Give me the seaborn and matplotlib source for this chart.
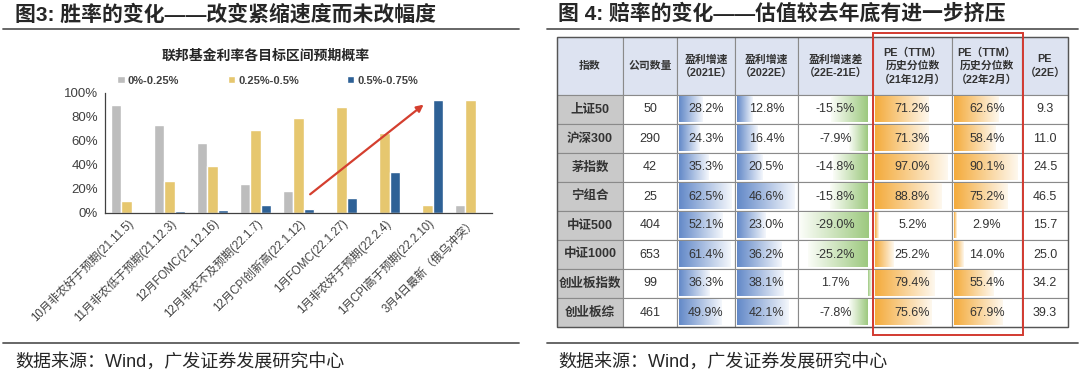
import numpy as np
import pandas as pd
import matplotlib
matplotlib.use("Agg")
import matplotlib.pyplot as plt
from matplotlib.patches import Rectangle
from matplotlib.colors import LinearSegmentedColormap
import seaborn as sns

# ---- 图3 数据: 联邦基金利率各目标区间预期概率 (%)
events = ["10月非农好于预期(21.11.5)", "11月非农低于预期(21.12.3)", "12月FOMC(21.12.16)",
          "12月非农不及预期(22.1.7)", "12月CPI创新高(22.1.12)", "1月FOMC(22.1.27)",
          "1月非农好于预期(22.2.4)", "1月CPI高于预期(22.2.10)", "3月4日最新（俄乌冲突）"]
ranges = ["0%-0.25%", "0.25%-0.5%", "0.5%-0.75%"]
p_0_025 = [90, 73, 58, 24, 18, 0, 0, 0, 6]
p_025_05 = [10, 26, 39, 69, 79, 88, 66, 6, 94]
p_05_075 = [0, 1, 2, 6, 3, 12.5, 34, 94, 0]

# ---- 图4 数据: 表格
idx_names = ["上证50", "沪深300", "茅指数", "宁组合", "中证500", "中证1000", "创业板指数", "创业板综"]
n_companies = [50, 290, 42, 25, 404, 653, 99, 461]
growth_21 = [28.2, 24.3, 35.3, 62.5, 52.1, 61.4, 36.3, 49.9]
growth_22 = [12.8, 16.4, 20.5, 46.6, 23.0, 36.2, 38.1, 42.1]
growth_diff = [-15.5, -7.9, -14.8, -15.8, -29.0, -25.2, 1.7, -7.8]
pe_pct_dec = [71.2, 71.3, 97.0, 88.8, 5.2, 25.2, 79.4, 75.6]
pe_pct_feb = [62.6, 58.4, 90.1, 75.2, 2.9, 14.0, 55.4, 67.9]
pe_22e = [9.3, 11.0, 24.5, 46.5, 15.7, 25.0, 34.2, 39.3]
headers = ["指数", "公司数量", "盈利增速\n（2021E）", "盈利增速\n（2022E）", "盈利增速差\n（22E-21E）",
           "PE（TTM）\n历史分位数\n（21年12月）", "PE（TTM）\n历史分位数\n（22年2月）", "PE\n（22E）"]

sns.set_theme(style="white")
plt.rcParams['font.family'] = ['Liberation Sans', 'Noto Sans CJK SC', 'DejaVu Sans']
plt.rcParams['axes.unicode_minus'] = False

W, H = 1080, 375
fig = plt.figure(figsize=(W / 100, H / 100), dpi=100)

# calque en pixels pour titres, lignes et tableau
ov = fig.add_axes([0, 0, 1, 1])
ov.axis('off')

TXT = '#262626'
LINE = '#5a5a5a'

# titres + filets
ov.text(15, 14, "图3: 胜率的变化——改变紧缩速度而未改幅度", fontsize=15, fontweight='bold',
        color=TXT, va='center', ha='left')
ov.text(558, 14, "图 4: 赔率的变化——估值较去年底有进一步挤压", fontsize=15, fontweight='bold',
        color=TXT, va='center', ha='left')
for x0, x1 in [(3, 519), (547, 1078)]:
    ov.plot([x0, x1], [29, 29], color=LINE, lw=1.3)
    ov.plot([x0, x1], [343, 343], color=LINE, lw=1.3)
ov.text(15, 362, "数据来源：Wind，广发证券发展研究中心", fontsize=13, color=TXT, va='center')
ov.text(558, 362, "数据来源：Wind，广发证券发展研究中心", fontsize=13, color=TXT, va='center')

# ---------------- 图3 : barres groupées ----------------
df = pd.DataFrame({
    "event": events * 3,
    "range": np.repeat(ranges, len(events)),
    "prob": p_0_025 + p_025_05 + p_05_075,
})
ax = fig.add_axes([105 / W, 1 - 212.7 / H, 387 / W, 120 / H])
sns.barplot(data=df, x="event", y="prob", hue="range", order=events, hue_order=ranges,
            palette=["#bdbdbd", "#e6c76f", "#2e6196"], saturation=1, width=0.7, ax=ax)
ax.set_ylim(0, 100)
ax.set_xlim(-0.5, len(events) - 0.5)
ax.set_yticks(range(0, 101, 20))
ax.set_yticklabels([f"{v}%" for v in range(0, 101, 20)], fontsize=9.5, color='#404040')
ax.set_xticks(range(len(events)))
ax.set_xticklabels(events, rotation=45, ha='right', rotation_mode='anchor', fontsize=8.3, color='#404040')
ax.set_xlabel("")
ax.set_ylabel("")
for s in ['top', 'right']:
    ax.spines[s].set_visible(False)
for s in ['left', 'bottom']:
    ax.spines[s].set_color('#404040')
    ax.spines[s].set_linewidth(0.9)
ax.tick_params(axis='y', length=3, color='#404040', pad=2)
ax.tick_params(axis='x', length=0, pad=3)
ax.patch.set_alpha(0)

arrow_from = (4.22, 13.9)
arrow_to = (6.96, 91.5)
ax.annotate("", xy=arrow_to, xytext=arrow_from,
            arrowprops=dict(arrowstyle='-|>', color='#d43f2f', lw=1.6, mutation_scale=10))

handles, labels = ax.get_legend_handles_labels()
ax.legend_.remove()
fig.legend(handles, labels, ncol=3, loc='lower left', mode='expand',
           bbox_to_anchor=(113 / W, 1 - 90 / H, 310 / W, 14 / H), frameon=False,
           handlelength=0.65, handleheight=0.65, handletextpad=0.3, borderaxespad=0,
           prop={'size': 8, 'weight': 'bold'}, labelcolor='#404040')
fig.text(266 / W, 1 - 56 / H, "联邦基金利率各目标区间预期概率", fontsize=10, fontweight='bold',
         color=TXT, ha='center', va='center')

# ---------------- 图4 : tableau avec barres de données ----------------
col_edges = [557, 623, 677, 735, 798, 873, 952, 1022, 1068]
head_top, head_bot = 37, 95
row_h = (327 - head_bot) / len(idx_names)
GRID = '#8a8a8a'


def gradient_bar(x0, x1, y0, y1, c_dark, c_light, reverse=False):
    if x1 - x0 < 0.5:
        return
    cmap = LinearSegmentedColormap.from_list("g", [c_dark, c_light])
    grad = np.linspace(0, 1, 128)[None, :]
    if reverse:
        grad = grad[:, ::-1]
    ov.imshow(grad, cmap=cmap, extent=(x0, x1, y1, y0), aspect='auto',
              interpolation='bilinear', zorder=2)


# en-tête
for j, h in enumerate(headers):
    x0, x1 = col_edges[j], col_edges[j + 1]
    ov.add_patch(Rectangle((x0, head_top), x1 - x0, head_bot - head_top, facecolor='#dde3f1',
                           edgecolor=GRID, lw=0.8, zorder=1))
    ov.text((x0 + x1) / 2, (head_top + head_bot) / 2, h, ha='center', va='center',
            fontsize=7.8, fontweight='bold', color='#333333', linespacing=1.35, zorder=4)

BLUE = ('#6389c8', '#f4f7fc')
ORANGE = ('#f4ab3c', '#fef8ee')
GREEN = ('#9dc97f', '#fbfdf8')
bar_cols = {2: (growth_21,) + BLUE, 3: (growth_22,) + BLUE,
            5: (pe_pct_dec,) + ORANGE, 6: (pe_pct_feb,) + ORANGE}

for i, name in enumerate(idx_names):
    y0 = head_bot + i * row_h
    y1 = y0 + row_h
    yc = (y0 + y1) / 2
    cells = [name, f"{n_companies[i]}", f"{growth_21[i]:.1f}%", f"{growth_22[i]:.1f}%",
             f"{growth_diff[i]:.1f}%", f"{pe_pct_dec[i]:.1f}%", f"{pe_pct_feb[i]:.1f}%", f"{pe_22e[i]:.1f}"]
    for j, txt in enumerate(cells):
        x0, x1 = col_edges[j], col_edges[j + 1]
        fc = '#c9c9c9' if j == 0 else 'white'
        ov.add_patch(Rectangle((x0, y0), x1 - x0, row_h, facecolor=fc, edgecolor=GRID, lw=0.8, zorder=1))
        w = x1 - x0
        if j in bar_cols:
            vals, cd, cl = bar_cols[j]
            length = vals[i] / max(vals) * 0.94 * (w - 2)
            gradient_bar(x0 + 1.5, x0 + 1.5 + length, y0 + 1.5, y1 - 1.5, cd, cl)
        if j == 4:
            vmin, vmax = min(growth_diff), max(growth_diff)
            scale = (w - 3) / (vmax - vmin)
            axis_x = x0 + 1.5 - vmin * scale
            v = growth_diff[i]
            if v < 0:
                gradient_bar(axis_x + v * scale, axis_x, y0 + 1.5, y1 - 1.5, GREEN[0], GREEN[1], reverse=True)
            else:
                gradient_bar(axis_x, axis_x + v * scale, y0 + 1.5, y1 - 1.5, GREEN[0], GREEN[1])
        if j == 0:
            ov.text((x0 + x1) / 2, yc, txt, ha='center', va='center', fontsize=9,
                    fontweight='bold', color='#333333', zorder=4)
        else:
            ov.text((x0 + x1) / 2, yc, txt, ha='center', va='center', fontsize=9,
                    color='#333333', zorder=4)

# cadre extérieur
ov.add_patch(Rectangle((col_edges[0], head_top), col_edges[-1] - col_edges[0], 327 - head_top,
                       facecolor='none', edgecolor='#555555', lw=1.0, zorder=5))
# encadré rouge sur les colonnes de PE historique
ov.add_patch(Rectangle((873, 33), 1023 - 873, 335 - 33, facecolor='none',
                       edgecolor='#d23a30', lw=1.4, zorder=6))

ov.set_xlim(0, W)
ov.set_ylim(H, 0)

fig.savefig("out.png", dpi=100)
